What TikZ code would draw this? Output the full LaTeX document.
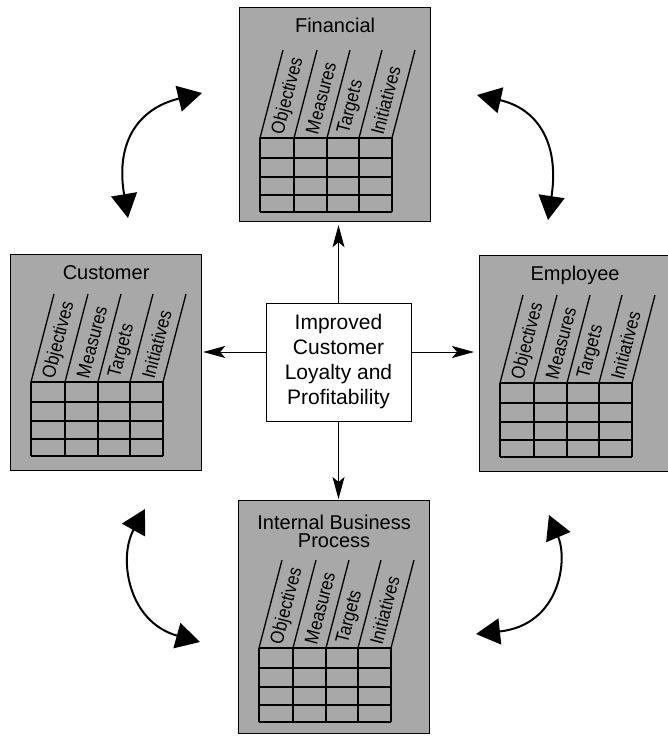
\documentclass[tikz,border=0pt]{standalone}
\usepackage{fontspec}
\setmainfont{Liberation Sans}
\newfontfamily\labfont[FakeStretch=0.88]{Liberation Sans}
\usetikzlibrary{arrows.meta,calc}
\definecolor{cardgray}{gray}{0.66}
\newcommand\scard[7]{%
  \node[cardbox, minimum height=#4pt, anchor=north west] (#1) at (#2,#3) {};
  \begin{scope}[shift={(#1.north west)}]
    \foreach \c in {0,34,67,99,132}{
      \draw[gridline] (21+\c,#5) -- (21+\c,#5+74);
      \draw[gridline] (21+\c,#5) -- (44+\c,#5-88);
    }
    \foreach \r in {0,20,39,57,74}
      \draw[gridline] (21,#5+\r) -- (153,#5+\r);
    \foreach \lab/\m [count=\i] in {Objectives/17,Measures/50.5,Targets/83,Initiatives/115.5}
      \node[collabel] (#1-c\i) at (22.2+\m,#5-4) {\lab};
  \end{scope}
  \node[cardtitle] (#1-title) at ($(#1.north)+(0,#6)$) {#7};
}
\begin{document}
\begin{tikzpicture}[x=1pt,y=-1pt,
  cardbox/.style={draw=black, line width=1.2pt, fill=cardgray, rectangle, minimum width=191pt, inner sep=0pt},
  cardtitle/.style={font=\fontsize{20}{18}\selectfont, align=center, inner sep=0pt},
  gridline/.style={line width=1.3pt, black},
  collabel/.style={font=\labfont\fontsize{19}{20}\selectfont, rotate=75.35, anchor=west, inner sep=0pt},
  centerbox/.style={draw, line width=1pt, fill=white, minimum width=145pt, minimum height=118pt, align=center, font=\fontsize{21}{25}\selectfont, inner sep=0pt},
  thinarrow/.style={line width=0.9pt, -{Stealth[length=22pt,width=12pt,inset=5pt]}},
  bigarrow/.style={line width=2pt, {Triangle[length=24pt,width=26pt]}-{Triangle[length=24pt,width=26pt]}},
]
\useasboundingbox (0,0) rectangle (667,736);

\scard{fin}{239}{7}{214}{131}{18}{Financial}
\scard{cust}{10}{254}{216}{128}{19}{Customer}
\scard{emp}{479}{255}{216}{128}{20}{Employee}
\scard{ibp}{238}{500}{233}{148}{31}{Internal Business\\Process}

\node[centerbox] (ctr) at (338.5,362) {Improved\\Customer\\Loyalty and\\Profitability};

\coordinate (ly) at (0,352);
\draw[thinarrow, shorten >=3pt] (ctr.north) -- (ctr.north |- fin.south);
\draw[thinarrow, shorten >=1pt] (ctr.south) -- (ctr.south |- ibp.north);
\draw[thinarrow, shorten >=1pt] (ctr.west |- ly) -- (cust.east |- ly);
\draw[thinarrow, shorten >=5pt] (ctr.east |- ly) -- (emp.west |- ly);

\coordinate (tlA) at (202,93);
\coordinate (tlB) at (128,218);
\coordinate (trP) at (477,95);
\coordinate (trQ) at (548,220);
\coordinate (blT) at (145,509);
\coordinate (blU) at (200,642);
\coordinate (brT) at (549,515);
\coordinate (brU) at (476,634);
\draw[bigarrow] (tlB) .. controls (115,140) and (140,108) .. (tlA);
\draw[bigarrow] (trQ) .. controls (560,140) and (535,108) .. (trP);
\draw[bigarrow] (blT) .. controls (118,558) and (128,622) .. (blU);
\draw[bigarrow] (brT) .. controls (568,560) and (560,625) .. (brU);
\end{tikzpicture}
\end{document}
